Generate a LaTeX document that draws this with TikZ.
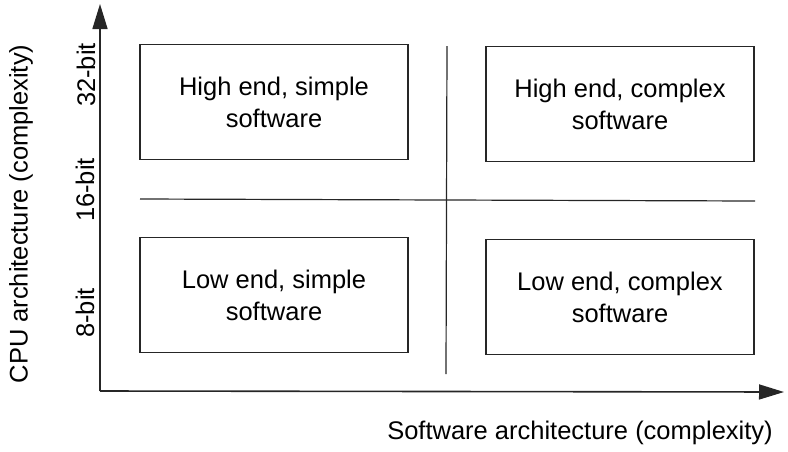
\documentclass[tikz,border=0pt]{standalone}
\usepackage{fontspec}
\setmainfont{Liberation Sans}
\usetikzlibrary{arrows.meta}
\begin{document}
\begin{tikzpicture}[x=1pt,y=-1pt,
  quad/.style={draw=black!85,line width=1.3pt,minimum width=268pt,minimum height=115pt,
    align=center,font=\fontsize{25.5}{32}\selectfont,inner sep=0pt},
  axis/.style={draw=black!85,line width=1.6pt,-{Triangle[width=15pt,length=25pt]}},
  divider/.style={draw=black!85,line width=1.2pt},
  tick/.style={rotate=90,font=\fontsize{25.5}{30}\selectfont},
  axlabel/.style={font=\fontsize{25.5}{30}\selectfont}]
\useasboundingbox (0,0) rectangle (788,451);
% axes
\coordinate (o) at (100,391);
\coordinate (ytip) at (100,4);
\coordinate (xtip) at (784,392);
\draw[axis] (o) -- (ytip);
\draw[axis] (o) -- (xtip);
% dividing lines
\coordinate (vt) at (447,46);
\coordinate (vb) at (446,374);
\coordinate (hl) at (140,199);
\coordinate (hr) at (755,201);
\draw[divider] (vt) -- (vb);
\draw[divider] (hl) -- (hr);
% quadrants
\node[quad] (hs) at (274,102) {High end, simple\\software};
\node[quad] (hc) at (620,104) {High end, complex\\software};
\node[quad] (ls) at (274,295) {Low end, simple\\software};
\node[quad] (lc) at (620,297) {Low end, complex\\software};
% tick labels
\node[tick] (b32) at (86,75) {32-bit};
\node[tick] (b16) at (85,190) {16-bit};
\node[tick] (b8) at (85,313) {8-bit};
% axis titles
\node[axlabel,rotate=90] (ylab) at (21,214) {CPU architecture (complexity)};
\node[axlabel] (xlab) at (580,433) {Software architecture (complexity)};
\end{tikzpicture}
\end{document}
